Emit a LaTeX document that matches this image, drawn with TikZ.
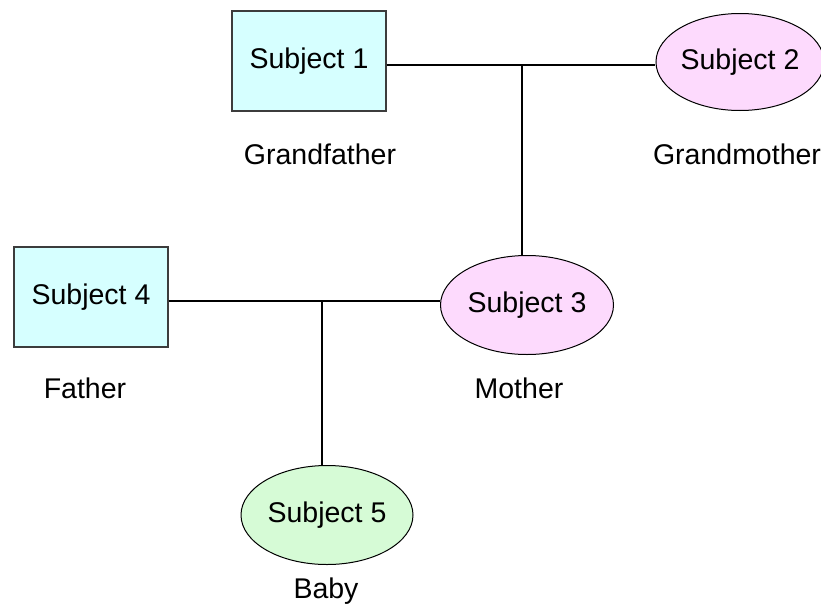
\documentclass[tikz,border=0pt]{standalone}
\usepackage{fontspec}
\setmainfont{Liberation Sans}
\usetikzlibrary{shapes.geometric}
\definecolor{malefill}{RGB}{214,255,255}
\definecolor{femalefill}{RGB}{253,218,253}
\definecolor{babyfill}{RGB}{214,251,214}
\definecolor{edgegray}{RGB}{60,60,60}
\begin{document}
\begin{tikzpicture}[x=1pt,y=-1pt,
  every node/.style={font=\fontsize{28.5}{32}\selectfont, inner sep=0pt},
  male/.style={draw=edgegray, line width=1.2pt, fill=malefill, rectangle, minimum width=154pt, minimum height=100pt},
  female/.style={draw=black, line width=1pt, fill=femalefill, ellipse, minimum width=173pt, minimum height=99pt},
  baby/.style={draw=black, line width=1pt, fill=babyfill, ellipse, minimum width=172pt, minimum height=99pt},
  role/.style={},
  link/.style={draw=black, line width=1.2pt}]
\useasboundingbox (0,0) rectangle (821,608);

% grandparents
\node[male]   (s1) at (309,61)  {Subject 1};
\node[female, minimum width=166pt, minimum height=97pt] (s2) at (740,62) {Subject 2};
\node[role] (l1) at (320,154) {Grandfather};
\node[role] (l2) at (737,154) {Grandmother};

% parents
\node[male]   (s4) at (91,297)  {Subject 4};
\node[female] (s3) at (527,305) {Subject 3};
\node[role] (l4) at (85,388)  {Father};
\node[role] (l3) at (519,388) {Mother};

% child
\node[baby]   (s5) at (327,515) {Subject 5};
\node[role] (l5) at (326,591) {Baby};

% marriage lines and descent lines
\coordinate (m1) at (522,65);
\coordinate (m2) at (322,301);
\draw[link] (s1.east |- m1) -- (s2.west |- m1);
\draw[link] (m1) -- (m1 |- s3.north);
\draw[link] (s4.east |- m2) -- (s3.west |- m2);
\draw[link] (m2) -- (m2 |- s5.north);
\end{tikzpicture}
\end{document}
